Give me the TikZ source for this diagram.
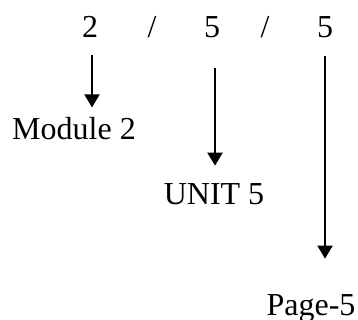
\documentclass[tikz,border=0pt]{standalone}
\usepackage{fontspec}
\setmainfont{Liberation Serif}
\usetikzlibrary{positioning,arrows.meta}
\begin{document}
\begin{tikzpicture}[x=0.5pt, y=-0.5pt, font=\fontsize{16}{19}\selectfont,
  lbl/.style={inner sep=0pt, anchor=base},
  arr/.style={line width=1pt, -{Triangle[length=6.5pt, width=7.5pt]}}]
\useasboundingbox (0,0) rectangle (358,320);
\node[lbl] (d1) at (90,38) {2};
\node[lbl] (s1) at (152,38) {/};
\node[lbl] (d2) at (212,38) {5};
\node[lbl] (s2) at (265,38) {/};
\node[lbl] (d3) at (325,38) {5};
\node[lbl] (mod) at (74,140) {Module 2};
\node[lbl] (unit) at (214,205) {UNIT 5};
\node[lbl] (page) at (311,315) {Page-5};
\draw[arr, shorten <=8.5pt, shorten >=5pt] ([xshift=1pt]d1.south) -- ([xshift=1pt]d1.south |- mod.north);
\draw[arr, shorten <=14.5pt, shorten >=9pt] ([xshift=1.5pt]d2.south) -- ([xshift=1.5pt]d2.south |- unit.north);
\draw[arr, shorten <=8.5pt, shorten >=17.5pt] (d3.south) -- (d3.south |- page.north);
\end{tikzpicture}
\end{document}
